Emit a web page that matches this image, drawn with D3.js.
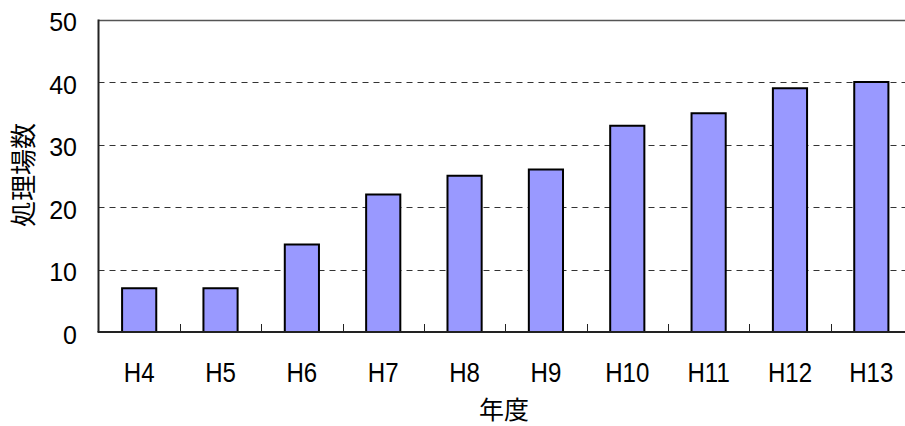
<!DOCTYPE html>
<html>
<head>
<meta charset="utf-8">
<script src="https://cdn.jsdelivr.net/npm/d3@7"></script>
<style>
  body { margin: 0; background: #fff; }
  text { font-family: "Liberation Sans", Arial, sans-serif; fill: #000; }
</style>
</head>
<body>
<script>
// data
const years = ["H4", "H5", "H6", "H7", "H8", "H9", "H10", "H11", "H12", "H13"];
const counts = [7, 7, 14, 22, 25, 26, 33, 35, 39, 40];
const yTicks = [0, 10, 20, 30, 40, 50];

const W = 905, H = 426;
const plotLeft = 98.5, plotTop = 19.5, plotBottom = 332, plotRight = 912;

var svg = d3.select("body").append("svg")
            .attr("width", W)
            .attr("height", H);

var x = d3.scaleBand().domain(years).range([plotLeft, plotRight]).paddingInner(0.58).paddingOuter(0.29);
var xEdge = d3.scaleLinear().domain([0, years.length]).range([plotLeft, plotRight]);
var y = d3.scaleLinear().domain([0, 50]).range([plotBottom, plotTop]);

// dashed grid
svg.selectAll("line.grid")
   .data(yTicks.filter(d => d > 0 && d < 50))
   .enter().append("line")
   .attr("class", "grid")
   .attr("x1", plotLeft).attr("x2", W)
   .attr("y1", d => Math.round(y(d)) + 0.5).attr("y2", d => Math.round(y(d)) + 0.5)
   .attr("stroke", "#333")
   .attr("stroke-dasharray", "6,5");

// top border
svg.append("line")
   .attr("x1", plotLeft).attr("x2", W)
   .attr("y1", Math.round(y(50)) + 0.5).attr("y2", Math.round(y(50)) + 0.5)
   .attr("stroke", "#555").attr("stroke-width", 1.5);

// bars
svg.selectAll("rect")
   .data(counts)
   .enter().append("rect")
   .attr("x", (d, i) => x(years[i]))
   .attr("y", d => y(d))
   .attr("width", x.bandwidth())
   .attr("height", d => plotBottom - y(d))
   .attr("fill", "#9999ff")
   .attr("stroke", "#000")
   .attr("stroke-width", 2);

// axes lines
svg.append("line")
   .attr("x1", plotLeft).attr("x2", plotLeft)
   .attr("y1", plotTop).attr("y2", plotBottom)
   .attr("stroke", "#222").attr("stroke-width", 2);
svg.append("line")
   .attr("x1", plotLeft - 1).attr("x2", W)
   .attr("y1", plotBottom).attr("y2", plotBottom)
   .attr("stroke", "#222").attr("stroke-width", 2);

// x tick marks between categories
svg.selectAll("line.xtick")
   .data(d3.range(1, years.length))
   .enter().append("line")
   .attr("class", "xtick")
   .attr("x1", d => Math.round(xEdge(d)) + 0.5).attr("x2", d => Math.round(xEdge(d)) + 0.5)
   .attr("y1", plotBottom).attr("y2", plotBottom - 8)
   .attr("stroke", "#222");

// y labels
svg.selectAll("text.ylab")
   .data(yTicks)
   .enter().append("text")
   .attr("class", "ylab")
   .attr("x", 77)
   .attr("y", d => y(d) + 11.5)
   .attr("text-anchor", "end")
   .attr("font-size", 25)
   .text(d => d);

// x labels (glyphs look a bit condensed in the source)
svg.selectAll("text.xlab")
   .data(years)
   .enter().append("text")
   .attr("class", "xlab")
   .attr("transform", d => "translate(" + (x(d) + x.bandwidth() / 2) + ",381.5) scale(0.86,1)")
   .attr("text-anchor", "middle")
   .attr("font-size", 28)
   .text(d => d);

// titles
svg.append("text")
   .attr("transform", "translate(21,175) rotate(-90)")
   .attr("text-anchor", "middle")
   .attr("dominant-baseline", "central")
   .attr("font-size", 26)
   .style("font-family", "'Noto Sans CJK JP', sans-serif")
   .text("処理場数");

svg.append("text")
   .attr("x", 504).attr("y", 419)
   .attr("text-anchor", "middle")
   .attr("font-size", 25)
   .style("font-family", "'Noto Sans CJK JP', sans-serif")
   .text("年度");
</script>
</body>
</html>
